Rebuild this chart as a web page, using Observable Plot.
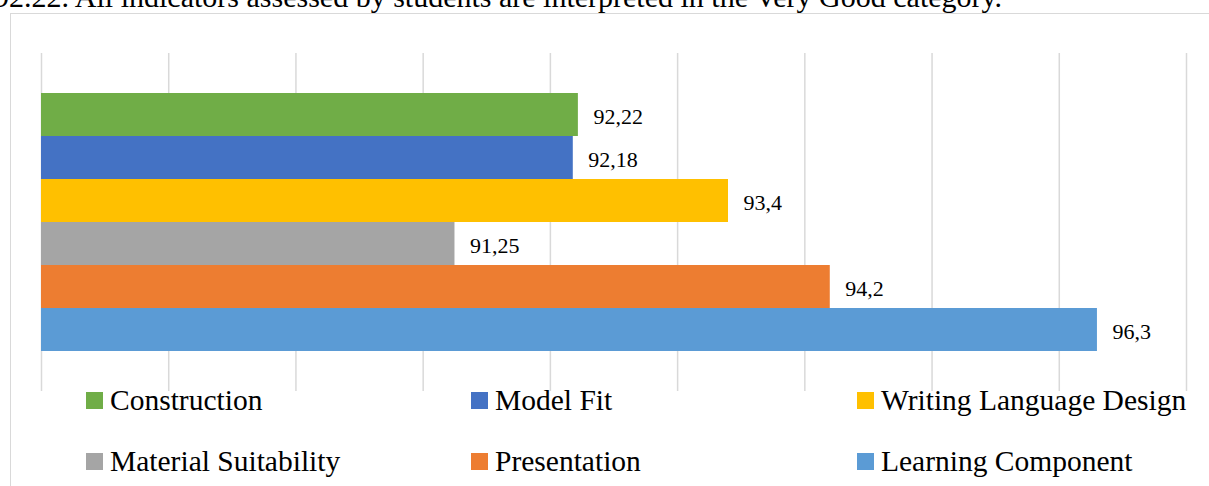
<!DOCTYPE html>
<html>
<head>
<meta charset="utf-8">
<script src="https://cdn.jsdelivr.net/npm/d3@7"></script>
<script src="https://cdn.jsdelivr.net/npm/@observablehq/plot@0.6"></script>
<style>
  html, body { margin: 0; padding: 0; background: #fff; }
  body { width: 1209px; height: 486px; overflow: hidden; position: relative; font-family: "Liberation Serif", serif; color: #000; }
  #caption { position: absolute; left: -6px; top: -17px; font-size: 30px; line-height: 28px; white-space: nowrap; }
  #frame { position: absolute; left: 10px; top: 13px; width: 1300px; height: 600px; border: 1.5px solid #d9d9d9; box-sizing: border-box; }
  #chart { position: absolute; left: 0; top: 0; }
  .lg { position: absolute; font-size: 29.5px; line-height: 28px; white-space: nowrap; }
  .sw { position: absolute; width: 17px; height: 17px; }
</style>
</head>
<body>
<div id="caption">92.22. All indicators assessed by students are interpreted in the Very Good category.</div>
<div id="frame"></div>
<div id="chart"></div>
<div id="legend"></div>
<script>
const categories = ["Construction", "Model Fit", "Writing Language Design", "Material Suitability", "Presentation", "Learning Component"];
const values = [92.22, 92.18, 93.4, 91.25, 94.2, 96.3];
const colors = ["#70AD47", "#4472C4", "#FFC000", "#A5A5A5", "#ED7D31", "#5B9BD5"];
const xDomain = [88, 97];
const gridTicks = [88, 89, 90, 91, 92, 93, 94, 95, 96, 97];

const data = categories.map((name, i) => ({name, value: values[i]}));

const chart = Plot.plot({
  width: 1209,
  height: 392,
  marginLeft: 41,
  marginRight: 23,
  marginTop: 53,
  marginBottom: 1,
  style: {background: "transparent", fontFamily: "Liberation Serif, serif"},
  x: {domain: xDomain, axis: null},
  y: {domain: categories, axis: null, paddingInner: 0, paddingOuter: 0.885},
  color: {domain: categories, range: colors},
  marks: [
    Plot.ruleX(gridTicks, {stroke: "#d9d9d9", strokeWidth: 1.5}),
    Plot.barX(data, {x1: xDomain[0], x2: "value", y: "name", fill: "name"}),
    Plot.text(data, {
      x: "value", y: "name",
      text: d => String(d.value).replace(".", ","),
      dx: 15, dy: 2, textAnchor: "start", fontSize: 22, fill: "#000"
    })
  ]
});
document.getElementById("chart").appendChild(chart);

// legend (3 columns x 2 rows)
const legend = document.getElementById("legend");
const colX = [86, 471, 857];
const rowY = [392, 453];
categories.forEach((name, i) => {
  const cx = colX[i % 3], ry = rowY[Math.floor(i / 3)];
  const sw = document.createElement("div");
  sw.className = "sw";
  sw.style.left = cx + "px";
  sw.style.top = ry + "px";
  sw.style.background = colors[i];
  legend.appendChild(sw);
  const t = document.createElement("div");
  t.className = "lg";
  t.style.left = (cx + 24) + "px";
  t.style.top = (ry - 6.5) + "px";
  t.textContent = name;
  legend.appendChild(t);
});
</script>
</body>
</html>
